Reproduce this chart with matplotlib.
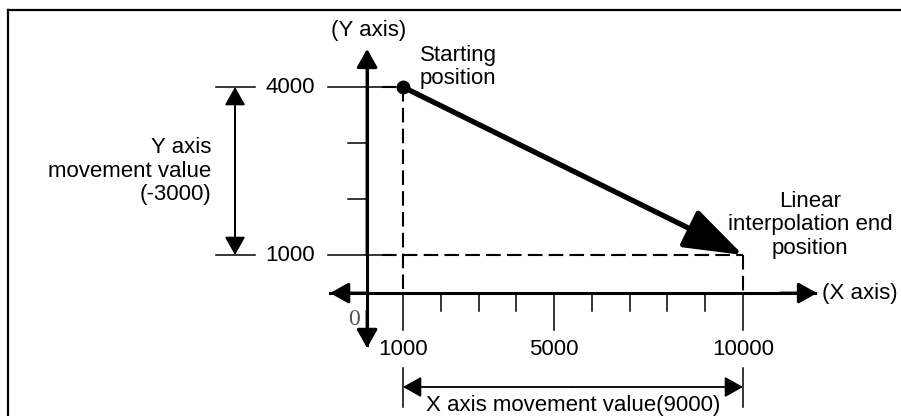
import matplotlib.pyplot as plt

plt.rcParams['font.family'] = ['Liberation Sans', 'DejaVu Sans']

# positions (user units)
start = (1000, 4000)
end = (10000, 1000)
x_ticks = [1000, 2000, 3000, 4000, 5000, 6000, 7000, 8000, 9000, 10000]
x_labels = {1000: '1000', 5000: '5000', 10000: '10000'}
y_ticks = [1000, 2000, 3000, 4000]
y_labels = {1000: '1000', 4000: '4000'}

# layout of the schematic axes (user units)
x_axis_y = 320
y_axis_x = 50

fig = plt.figure(figsize=(9.01, 4.16), dpi=100)
ax = fig.add_axes([0, 0, 1, 1])
ax.set_xlim(-9667, 14182)
ax.set_ylim(-1875, 5554)
ax.axis('off')

fs = 16
k = 'black'

def arrow(p0, p1, lw=2.2, hl=0.8, hw=0.45):
    ax.annotate('', xy=p1, xytext=p0,
                arrowprops=dict(arrowstyle='-|>,head_length=%s,head_width=%s' % (hl, hw),
                                lw=lw, color=k, shrinkA=0, shrinkB=0,
                                mutation_scale=14))

# frame (top and left only)
ax.plot([8 / 901, 1], [1 - 10 / 416] * 2, color=k, lw=1.6, transform=ax.transAxes, clip_on=False)
ax.plot([8 / 901] * 2, [1 - 10 / 416, 0], color=k, lw=1.6, transform=ax.transAxes, clip_on=False)

# axes with arrows
ax.plot([-930, 11900], [x_axis_y] * 2, color=k, lw=2.2)
arrow((0, x_axis_y), (-930, x_axis_y))
arrow((11000, x_axis_y), (11960, x_axis_y))
ax.plot([y_axis_x] * 2, [-600, 4600], color=k, lw=2.2)
arrow((y_axis_x, 1000), (y_axis_x, 4680))
arrow((y_axis_x, 0), (y_axis_x, -660))

# x ticks
for xt in x_ticks:
    ln = 660 if xt in x_labels else 320
    ax.plot([xt, xt], [x_axis_y, x_axis_y - ln], color=k, lw=1.1)
for xt, lab in x_labels.items():
    ax.text(xt, -679, lab, fontsize=fs, ha='center', va='center')

# y ticks
for yt in y_ticks:
    if yt in y_labels:
        ax.plot([-985, 445], [yt, yt], color=k, lw=1.1)
        ax.text(-1990, yt, y_labels[yt], fontsize=fs, ha='center', va='center')
    else:
        ax.plot([y_axis_x - 500, y_axis_x], [yt, yt], color=k, lw=1.1)

ax.text(-290, -160, '0', fontsize=17, family='Liberation Serif', color='#555555',
        ha='center', va='center')

# dashed guides
dash = dict(color=k, lw=1.5, dashes=(7, 3))
ax.plot([445, start[0]], [start[1]] * 2, **dash)
ax.plot([start[0]] * 2, [start[1], x_axis_y], **dash)
ax.plot([445, end[0]], [end[1]] * 2, **dash)
ax.plot([end[0]] * 2, [end[1], x_axis_y], **dash)

# movement path
ax.plot(*start, 'o', color=k, markersize=9)
arrow(start, end, lw=3.8, hl=2.6, hw=0.9)

# Y movement dimension
ax.plot([-3950, -2915], [start[1]] * 2, color=k, lw=1.1)
ax.plot([-3950, -2915], [end[1]] * 2, color=k, lw=1.1)
ax.plot([-3446] * 2, [1300, 3700], color=k, lw=1.3)
arrow((-3446, 2500), (-3446, start[1]), lw=1.3)
arrow((-3446, 2500), (-3446, end[1]), lw=1.3)
ax.text(-4082, 2500, 'Y axis\nmovement value\n(-3000)', fontsize=fs, ha='right', va='center',
        linespacing=1.15)

# X movement dimension
for xd in (start[0], end[0]):
    ax.plot([xd, xd], [-1018, -1714], color=k, lw=1.1)
mid = (start[0] + end[0]) / 2
arrow((mid, -1357), (start[0], -1357), lw=1.3)
arrow((mid, -1357), (end[0], -1357), lw=1.3)
ax.text(mid, -1680, 'X axis movement value(9000)', fontsize=fs, ha='center', va='center')

# labels
ax.text(100, 5018, '(Y axis)', fontsize=fs, ha='center', va='center')
ax.text(12092, x_axis_y, '(X axis)', fontsize=fs, ha='left', va='center')
ax.text(1450, 4357, 'Starting\nposition', fontsize=fs, ha='left', va='center', linespacing=1.15)
ax.text(11776, 1536, 'Linear\ninterpolation end\nposition', fontsize=fs, ha='center',
        va='center', linespacing=1.15)

fig.savefig('out.png', dpi=100)
